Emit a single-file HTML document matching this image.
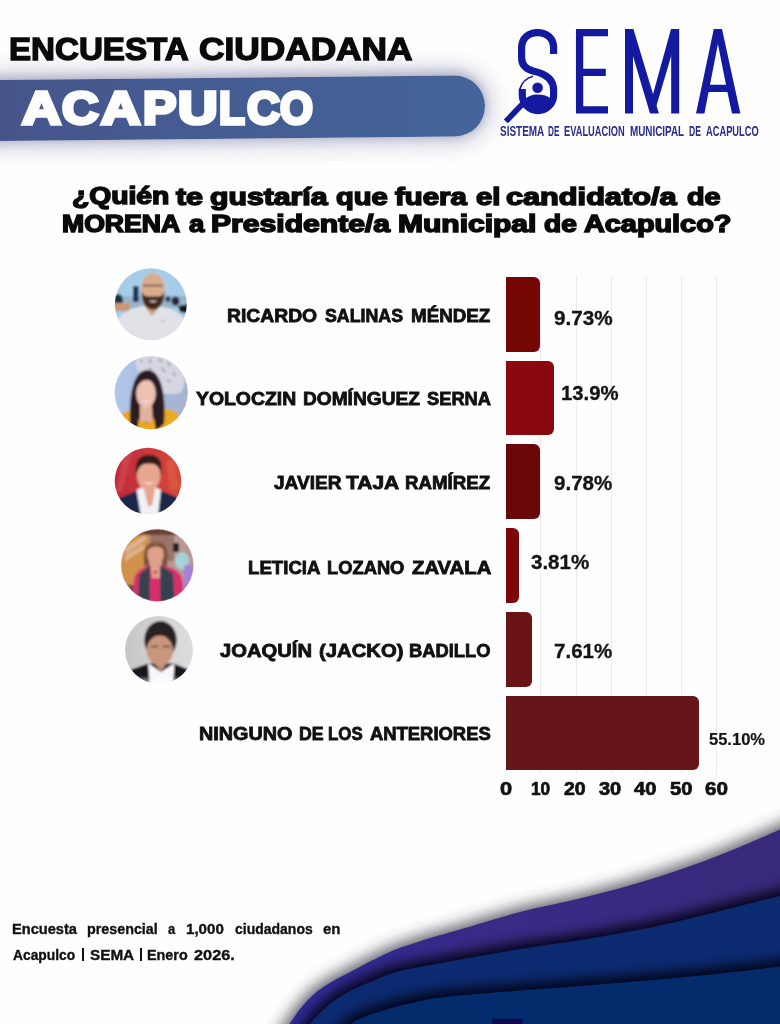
<!DOCTYPE html>
<html lang="es">
<head>
<meta charset="utf-8">
<title>Encuesta Ciudadana Acapulco - SEMA</title>
<style>
html,body{margin:0;padding:0;background:#fff;}
body{width:780px;height:1024px;position:relative;overflow:hidden;font-family:"Liberation Sans",sans-serif;}
#page{position:absolute;left:0;top:0;width:780px;height:1024px;overflow:hidden;background:#fefefe;}
.word{position:static;}
.t{display:block;position:absolute;white-space:pre;line-height:1;transform-origin:0 50%;font-family:"Liberation Sans",sans-serif;}
.pipe{position:absolute;top:947.8px;width:2.1px;height:13.6px;background:#111;}
.bar{position:absolute;left:506px;border-radius:0 6px 6px 0;}
.grid{position:absolute;top:275px;height:499px;width:1.1px;background:#ececec;}
#band{position:absolute;left:-40px;top:79.5px;width:525px;height:61.3px;background:linear-gradient(90deg,#45558b 8%,#44659b 100%);border-radius:0 30.6px 30.6px 0;
  box-shadow:0 0 22px 7px rgba(142,142,178,0.46), 0 -4px 9px rgba(105,105,135,0.3), 0 3px 9px rgba(100,100,135,0.2);transform:rotate(-0.56deg);transform-origin:40px 50%;}
svg{position:absolute;left:0;top:0;overflow:visible;}
</style>
</head>
<body>
<div id="page">

<!-- header band -->
<div id="band"></div>

<!-- bottom waves -->
<svg id="waves" width="780" height="1024" viewBox="0 0 780 1024">
  <defs>
    <filter id="sh1" x="-10%" y="-30%" width="120%" height="160%"><feGaussianBlur stdDeviation="7.5"/></filter>
    <filter id="sh2" x="-10%" y="-30%" width="120%" height="160%"><feGaussianBlur stdDeviation="6"/></filter>
    <linearGradient id="g1" x1="0" y1="0" x2="1" y2="0"><stop offset="0" stop-color="#2b2a96"/><stop offset="0.4" stop-color="#382a86"/><stop offset="1" stop-color="#39297a"/></linearGradient>
    <clipPath id="c1"><path d="M272.0,1050.0 C277.8,1041.3 284.5,1031.2 289.5,1024.0 C294.5,1016.8 297.4,1011.9 302.0,1006.5 C306.6,1001.1 311.7,995.8 317.0,991.5 C322.3,987.2 328.2,983.9 334.0,980.5 C339.8,977.1 345.7,974.3 352.0,971.0 C358.3,967.7 365.2,963.9 372.0,960.5 C378.8,957.1 386.7,953.2 393.0,950.5 C399.3,947.8 403.8,946.6 410.0,944.5 C416.2,942.4 421.7,940.5 430.0,938.0 C438.3,935.5 445.0,933.8 460.0,929.5 C475.0,925.2 498.9,917.5 520.0,912.0 C541.1,906.5 564.5,902.4 586.7,896.8 C608.9,891.2 630.8,885.5 653.0,878.5 C675.2,871.5 698.8,863.2 720.0,855.0 C741.2,846.8 766.7,835.3 780.0,829.5 C793.3,823.7 793.3,823.2 800.0,820.0 L800,1050 Z"/></clipPath>
    <clipPath id="c2"><path d="M293.0,1050.0 C298.7,1041.3 305.3,1030.3 310.0,1024.0 C314.7,1017.7 317.0,1015.8 321.0,1012.0 C325.0,1008.2 329.3,1004.4 334.0,1001.0 C338.7,997.6 343.2,994.6 349.0,991.5 C354.8,988.4 362.0,985.5 369.0,982.5 C376.0,979.5 384.2,975.8 391.0,973.5 C397.8,971.2 403.5,970.2 410.0,968.8 C416.5,967.4 421.7,966.5 430.0,965.0 C438.3,963.5 445.0,962.2 460.0,959.5 C475.0,956.8 498.9,952.4 520.0,949.0 C541.1,945.6 564.5,942.7 586.7,939.0 C608.9,935.3 630.8,931.7 653.0,927.0 C675.2,922.3 698.8,916.2 720.0,911.0 C741.2,905.8 766.7,899.2 780.0,895.7 C793.3,892.2 793.3,891.9 800.0,890.0 L800,1050 Z"/></clipPath>
  </defs>
  <path d="M272.0,1050.0 C277.8,1041.3 284.5,1031.2 289.5,1024.0 C294.5,1016.8 297.4,1011.9 302.0,1006.5 C306.6,1001.1 311.7,995.8 317.0,991.5 C322.3,987.2 328.2,983.9 334.0,980.5 C339.8,977.1 345.7,974.3 352.0,971.0 C358.3,967.7 365.2,963.9 372.0,960.5 C378.8,957.1 386.7,953.2 393.0,950.5 C399.3,947.8 403.8,946.6 410.0,944.5 C416.2,942.4 421.7,940.5 430.0,938.0 C438.3,935.5 445.0,933.8 460.0,929.5 C475.0,925.2 498.9,917.5 520.0,912.0 C541.1,906.5 564.5,902.4 586.7,896.8 C608.9,891.2 630.8,885.5 653.0,878.5 C675.2,871.5 698.8,863.2 720.0,855.0 C741.2,846.8 766.7,835.3 780.0,829.5 C793.3,823.7 793.3,823.2 800.0,820.0 L800,1050 Z" fill="#30303c" opacity="0.78" filter="url(#sh1)" transform="translate(-3,-4)"/>
  <path d="M272.0,1050.0 C277.8,1041.3 284.5,1031.2 289.5,1024.0 C294.5,1016.8 297.4,1011.9 302.0,1006.5 C306.6,1001.1 311.7,995.8 317.0,991.5 C322.3,987.2 328.2,983.9 334.0,980.5 C339.8,977.1 345.7,974.3 352.0,971.0 C358.3,967.7 365.2,963.9 372.0,960.5 C378.8,957.1 386.7,953.2 393.0,950.5 C399.3,947.8 403.8,946.6 410.0,944.5 C416.2,942.4 421.7,940.5 430.0,938.0 C438.3,935.5 445.0,933.8 460.0,929.5 C475.0,925.2 498.9,917.5 520.0,912.0 C541.1,906.5 564.5,902.4 586.7,896.8 C608.9,891.2 630.8,885.5 653.0,878.5 C675.2,871.5 698.8,863.2 720.0,855.0 C741.2,846.8 766.7,835.3 780.0,829.5 C793.3,823.7 793.3,823.2 800.0,820.0 L800,1050 Z" fill="url(#g1)"/>
  <g clip-path="url(#c1)">
    <path d="M293.0,1050.0 C298.7,1041.3 305.3,1030.3 310.0,1024.0 C314.7,1017.7 317.0,1015.8 321.0,1012.0 C325.0,1008.2 329.3,1004.4 334.0,1001.0 C338.7,997.6 343.2,994.6 349.0,991.5 C354.8,988.4 362.0,985.5 369.0,982.5 C376.0,979.5 384.2,975.8 391.0,973.5 C397.8,971.2 403.5,970.2 410.0,968.8 C416.5,967.4 421.7,966.5 430.0,965.0 C438.3,963.5 445.0,962.2 460.0,959.5 C475.0,956.8 498.9,952.4 520.0,949.0 C541.1,945.6 564.5,942.7 586.7,939.0 C608.9,935.3 630.8,931.7 653.0,927.0 C675.2,922.3 698.8,916.2 720.0,911.0 C741.2,905.8 766.7,899.2 780.0,895.7 C793.3,892.2 793.3,891.9 800.0,890.0 L800,1050 Z" fill="#04040c" opacity="0.9" filter="url(#sh2)" transform="translate(-2,-6)"/>
    <path d="M293.0,1050.0 C298.7,1041.3 305.3,1030.3 310.0,1024.0 C314.7,1017.7 317.0,1015.8 321.0,1012.0 C325.0,1008.2 329.3,1004.4 334.0,1001.0 C338.7,997.6 343.2,994.6 349.0,991.5 C354.8,988.4 362.0,985.5 369.0,982.5 C376.0,979.5 384.2,975.8 391.0,973.5 C397.8,971.2 403.5,970.2 410.0,968.8 C416.5,967.4 421.7,966.5 430.0,965.0 C438.3,963.5 445.0,962.2 460.0,959.5 C475.0,956.8 498.9,952.4 520.0,949.0 C541.1,945.6 564.5,942.7 586.7,939.0 C608.9,935.3 630.8,931.7 653.0,927.0 C675.2,922.3 698.8,916.2 720.0,911.0 C741.2,905.8 766.7,899.2 780.0,895.7 C793.3,892.2 793.3,891.9 800.0,890.0 L800,1050 Z" fill="#0c2a70"/>
  </g>
  <g clip-path="url(#c2)">
    <path d="M322.0,1050.0 C331.7,1041.3 344.0,1029.5 351.0,1024.0 C358.0,1018.5 359.4,1019.0 364.0,1017.0 C368.6,1015.0 373.0,1013.8 378.7,1012.0 C384.4,1010.2 391.5,1007.7 398.0,1006.0 C404.5,1004.3 412.4,1003.0 417.7,1001.8 C423.0,1000.6 422.9,1000.0 430.0,999.0 C437.1,998.0 445.0,996.9 460.0,995.5 C475.0,994.1 498.9,992.2 520.0,990.5 C541.1,988.8 564.5,987.2 586.7,985.5 C608.9,983.8 630.8,982.0 653.0,980.0 C675.2,978.0 698.8,975.8 720.0,973.5 C741.2,971.2 766.7,968.1 780.0,966.5 C793.3,964.9 793.3,964.8 800.0,964.0 L800,1050 Z" fill="#04040c" opacity="0.9" filter="url(#sh2)" transform="translate(-2,-6)"/>
    <path d="M322.0,1050.0 C331.7,1041.3 344.0,1029.5 351.0,1024.0 C358.0,1018.5 359.4,1019.0 364.0,1017.0 C368.6,1015.0 373.0,1013.8 378.7,1012.0 C384.4,1010.2 391.5,1007.7 398.0,1006.0 C404.5,1004.3 412.4,1003.0 417.7,1001.8 C423.0,1000.6 422.9,1000.0 430.0,999.0 C437.1,998.0 445.0,996.9 460.0,995.5 C475.0,994.1 498.9,992.2 520.0,990.5 C541.1,988.8 564.5,987.2 586.7,985.5 C608.9,983.8 630.8,982.0 653.0,980.0 C675.2,978.0 698.8,975.8 720.0,973.5 C741.2,971.2 766.7,968.1 780.0,966.5 C793.3,964.9 793.3,964.8 800.0,964.0 L800,1050 Z" fill="#042b6c"/>
  </g>
  <rect x="491.8" y="1018.8" width="30.8" height="8" fill="#0d0a50"/>
</svg>

<!-- chart grid + bars -->
<div class="grid" style="left:540.4px"></div>
<div class="grid" style="left:575.5px"></div>
<div class="grid" style="left:610.5px"></div>
<div class="grid" style="left:645.6px"></div>
<div class="grid" style="left:680.6px"></div>
<div class="grid" style="left:715.7px"></div>
<div class="bar" style="top:277.0px;height:74.7px;width:34.3px;background:#740604"></div>
<div class="bar" style="top:360.6px;height:74.8px;width:48.2px;background:#8b090e"></div>
<div class="bar" style="top:444.3px;height:74.8px;width:34.0px;background:#6a0709"></div>
<div class="bar" style="top:528.0px;height:74.8px;width:13.0px;background:#7c0608"></div>
<div class="bar" style="top:611.8px;height:74.8px;width:26.2px;background:#6b1418"></div>
<div class="bar" style="top:695.8px;height:74.7px;width:193.1px;background:#66151a"></div>

<!-- logo -->
<svg id="logo" width="780" height="160" viewBox="0 0 780 160">
  <g fill="none" stroke="#141aa0" stroke-width="7.2" stroke-linecap="butt" stroke-linejoin="miter">
    <!-- S with magnifier bowl -->
    <path d="M553.6,54 L553.6,48 C553.6,37.800 546.500,32.600 537.600,32.600 C528.700,32.600 521.600,37.800 521.600,48 L521.6,58 C521.6,65 526,69 533,71 C545,73.5 553.6,79 553.6,90 L553.6,95 A15.65,15.65 0 0 1 522.3,95 L522.3,89"/>
    <!-- E -->
    <path d="M608,32.700 L579.600,32.700 L579.600,109.800 L608,109.800 M579.600,72.300 L605.800,72.300" stroke-width="7.300"/>
    <!-- M stems -->
    <path d="M629,113.5 L629,29 M675.2,113.5 L675.2,29" stroke-width="8"/>
    <!-- magnifier thin arc + handle -->
    <path d="M533,76.300 A19,19 0 0 0 519.700,89.500" stroke-width="1.700"/>
    <path d="M523.500,103 L505.800,121.400" stroke-width="5.600"/>
  </g>
  <g fill="#141aa0">
    <!-- M diagonals -->
    <path d="M625,29 L633.4,29 L658.9,113.5 L650,113.5 Z"/>
    <path d="M679.2,29 L671,29 L652.8,95 L656.2,106.5 Z"/>
    <!-- A -->
    <path d="M713.8,29 L722,29 L740.4,113.5 L732,113.5 L727.4,92 L708.6,92 L704.4,113.5 L696,113.5 Z M717.9,44 L710,84.800 L726,84.800 Z" fill-rule="evenodd"/>
    <!-- person inside magnifier -->
    <path d="M524.500,100 C528,96 532,94.600 537.500,94.600 C543,94.600 548,96 551.500,99.200 A14,14 0 0 1 524.500,100 Z"/>
    <circle cx="537.6" cy="87.8" r="5.300"/>
  </g>
</svg>

<!-- avatars -->
<svg id="avatars" width="780" height="1024" viewBox="0 0 780 1024">
  <defs>
    <clipPath id="a1"><circle cx="150.8" cy="304.2" r="36"/></clipPath>
    <clipPath id="a2"><circle cx="151.2" cy="392.6" r="36.6"/></clipPath>
    <clipPath id="a3"><circle cx="148" cy="481" r="33.3"/></clipPath>
    <clipPath id="a4"><circle cx="157.3" cy="565.2" r="36"/></clipPath>
    <clipPath id="a5"><circle cx="159" cy="650" r="34"/></clipPath>
    <filter id="bl" x="-5%" y="-5%" width="110%" height="110%"><feGaussianBlur stdDeviation="0.9"/></filter>
    <linearGradient id="bg2" x1="0" y1="0" x2="1" y2="0"><stop offset="0" stop-color="#b2c8ea"/><stop offset="1" stop-color="#a6acd4"/></linearGradient>
    <linearGradient id="bg3" x1="0" y1="0" x2="1" y2="0"><stop offset="0" stop-color="#bd2838"/><stop offset="0.55" stop-color="#cc3a3c"/><stop offset="1" stop-color="#da4a38"/></linearGradient>
    <linearGradient id="bg5" x1="0" y1="0" x2="1" y2="0"><stop offset="0" stop-color="#c6c6c6"/><stop offset="1" stop-color="#dedede"/></linearGradient>
    <linearGradient id="fade5" x1="0" y1="0" x2="0" y2="1"><stop offset="0" stop-color="#fff" stop-opacity="0"/><stop offset="1" stop-color="#fff" stop-opacity="1"/></linearGradient>
  </defs>
  <!-- avatar 1 -->
  <g clip-path="url(#a1)"><g filter="url(#bl)">
    <rect x="112" y="266" width="78" height="78" fill="#a6cde8"/>
    <rect x="112" y="296" width="78" height="12" fill="#8fa2b4" opacity="0.6"/>
    <ellipse cx="118" cy="300" rx="5" ry="6" fill="#1f3040"/>
    <rect x="114" y="303" width="16" height="8" fill="#c89878"/>
    <rect x="133" y="286" width="5.600" height="16" rx="1" fill="#1a3050"/>
    <ellipse cx="175.500" cy="301" rx="4" ry="4.500" fill="#20283a"/>
    <ellipse cx="168" cy="299" rx="2.500" ry="3" fill="#303a5a"/>
    <path d="M178,306 L190,304 L190,314 L180,312 Z" fill="#151518"/>
    <path d="M112,344 L116,322 C122,311 136,306 151,305 C166,306 180,311 186,322 L190,344 Z" fill="#e1e2e7"/>
    <path d="M143,304 L152,316 L162,304 L158,300 L146,300 Z" fill="#c99a80"/>
    <ellipse cx="153" cy="289" rx="11.800" ry="16" fill="#dcab8e"/>
    <path d="M141.500,291 C141.500,304 147,309.500 153,309.500 C159,309.500 164.500,304 164.500,291 C163,296 160,297 153,296.500 C146,297 143,296 141.500,291 Z" fill="#43291f"/>
    <path d="M148.500,300.500 C151,302.500 155,302.500 157.500,300.500 C155,301 151,301 148.500,300.500 Z" fill="#f2e6e0"/>
    <path d="M143,285.500 L163,285.500" stroke="#3a2a26" stroke-width="1.300" fill="none"/>
    <circle cx="163" cy="321" r="0.900" fill="#8a8a98"/>
  </g></g>
  <!-- avatar 2 -->
  <g clip-path="url(#a2)"><g filter="url(#bl)">
    <rect x="112" y="354" width="78" height="78" fill="url(#bg2)"/>
    <path d="M136,356 C150,352 176,356 184,372 C186,382 184,392 178,394 L164,394 C158,380 140,374 136,368 Z" fill="#d6d6e2"/>
    <path d="M140,360 l3,2 m6,-3 l2,4 m8,-4 l3,3 m6,0 l2,4 m-22,2 l4,2 m10,-2 l3,4 m8,0 l2,4 m-8,4 l4,2 m-22,-10 l3,3" stroke="#8a8a9c" stroke-width="1.300" fill="none"/>
    <rect x="160" y="394" width="30" height="20" fill="#a8b4d4"/>
    <path d="M118,432 L122,414 C128,409 140,408 150,408 C164,408 174,409 178,414 L182,432 Z" fill="#eaa922"/>
    <path d="M130,424 C129,398 132,371 147,370 C162,370 166,396 164,424 L158,429 L136,429 Z" fill="#2c1c24"/>
    <path d="M140,406 L152,406 L153,422 L140,422 Z" fill="#e2b0a0"/>
    <path d="M139,418 C142,424 150,424 154,418 L156,432 L137,432 Z" fill="#eaa922"/>
    <ellipse cx="146" cy="393.500" rx="9.800" ry="14.500" fill="#ecc0b3"/>
    <path d="M135.500,392 C136,378 141,374 147,374 C153,374 157,378 157.500,392 C155,383 151,380 147,380 C142,380 138,383 135.500,392 Z" fill="#2c1c24"/>
    <path d="M142,400.500 C144.500,402.800 148,402.800 150.500,400.500 C148,401.300 144.500,401.300 142,400.500 Z" fill="#f6ecec"/>
  </g></g>
  <!-- avatar 3 -->
  <g clip-path="url(#a3)"><g filter="url(#bl)">
    <rect x="112" y="445" width="72" height="72" fill="url(#bg3)"/>
    <path d="M124,452 L132,452 L122,492 L116,492 Z" fill="#d2505a" opacity="0.6"/>
    <path d="M166,462 L174,458 L178,488 L170,490 Z" fill="#e06048" opacity="0.6"/>
    <path d="M112,517 L119,498 L138,490.500 L160,490.500 L177,497 L184,517 Z" fill="#1a2746"/>
    <path d="M136.500,490 L141,516 L158,516 L161,490 L155,487 L142,487 Z" fill="#f0f0f5"/>
    <path d="M144,489 L148,506 L152,506 L155,489 Z" fill="#e3a58c"/>
    <ellipse cx="148.700" cy="475" rx="11.800" ry="15.500" fill="#e6a78e"/>
    <path d="M136.500,476 C134,460 140,455 149,455 C158,455 163.500,460 161,476 C160,466 156,463.500 149,463.500 C142,463.500 138,466 136.500,476 Z" fill="#2f1d19"/>
    <path d="M143.500,482 C146.500,484.800 151,484.800 154,482 C151,483 146.500,483 143.500,482 Z" fill="#f8efec"/>
  </g></g>
  <!-- avatar 4 -->
  <g clip-path="url(#a4)"><g filter="url(#bl)">
    <rect x="119" y="527" width="78" height="78" fill="#b89a92"/>
    <rect x="119" y="527" width="30" height="78" fill="#d0914a"/>
    <path d="M124,548 L146,534 L146,540 L126,554 Z M124,556 L144,544 L144,549 L126,561 Z" fill="#dcb48a"/>
    <rect x="119" y="527" width="78" height="8" fill="#6b4232"/>
    <rect x="150" y="535" width="24" height="26" fill="#9a746a"/>
    <rect x="173" y="543" width="6" height="9" fill="#1e1e20"/>
    <ellipse cx="182" cy="561" rx="7" ry="9" fill="#a8d2da"/>
    <path d="M184,566 C190,562 196,568 196,576 L196,600 L184,600 Z" fill="#a67fd8"/>
    <path d="M119,585 L134,585 L134,605 L119,605 Z" fill="#5a5048"/>
    <path d="M132,605 L134,578 C138,568 148,565 156,565 C166,565 178,568 182,578 L185,605 Z" fill="#d92d6e"/>
    <path d="M150,563 L162,563 L160,578 L152,578 Z" fill="#e0a090"/>
    <path d="M138,605 L139,575 L150,565 L150,605 Z M160,605 L160,565 L173,573 L175,605 Z" fill="#35424e"/>
    <path d="M144.500,566 C142,548 147,542 156,542 C165,542 169,548 167,566 L162,566 L162,558 L149,558 L149,566 Z" fill="#7a5038"/>
    <ellipse cx="155.500" cy="554" rx="8.300" ry="11" fill="#dda088"/>
    <path d="M147,551 C148,545 152,543.500 156,543.500 C160,543.500 163.500,545 164.500,551 C162,547.500 159,546.500 156,546.500 C152.500,546.500 149.500,547.500 147,551 Z" fill="#7a5038"/>
    <circle cx="155.500" cy="572" r="1.600" fill="#b02020"/>
  </g></g>
  <circle cx="157.3" cy="565.2" r="36" fill="none" stroke="#e06aa0" stroke-width="1" opacity="0.35"/>
  <!-- avatar 5 -->
  <g clip-path="url(#a5)"><g filter="url(#bl)">
    <rect x="123" y="614" width="72" height="72" fill="url(#bg5)"/>
    <path d="M126,686 L131,669.500 L148,663.500 L174,663.500 L187.500,669 L192,686 Z" fill="#19191b"/>
    <path d="M148,663 L150,686 L173,686 L174.500,663 L161,672 Z" fill="#f7f7f9"/>
    <path d="M152,660 L161,672 L169,660 Z" fill="#c08f78"/>
    <ellipse cx="160.500" cy="640" rx="16.200" ry="19" fill="#2b2320"/>
    <ellipse cx="159.800" cy="650.500" rx="13.200" ry="15" fill="#c9967d"/>
    <path d="M147,641 C150,633 156,631.500 161,631.500 C167,631.500 172,634 174,641 L174,632 L147,632 Z" fill="#2b2320"/>
    <path d="M151,646.500 L158,646.500 M163,646.500 L170,646.500" stroke="#5a4438" stroke-width="1.600" fill="none"/>
    <rect x="123" y="676" width="72" height="10" fill="url(#fade5)"/>
  </g></g>
</svg>

<!-- texts -->
<div class="pipe" style="left:81.5px"></div><div class="pipe" style="left:139.9px"></div>
<div class="t" style="left:9.4px;top:33.8px;font-size:31.28px;font-weight:700;color:#0a0a0a;transform:scaleX(1.0592);-webkit-text-stroke:1.4px #0a0a0a;">ENCUESTA</div>
<div class="t" style="left:199.2px;top:33.8px;font-size:31.28px;font-weight:700;color:#0a0a0a;transform:scaleX(1.1277);-webkit-text-stroke:1.4px #0a0a0a;">CIUDADANA</div>
<div class="word"><span class="t" style="left:21.9px;top:85.2px;font-size:46.37px;font-weight:700;color:#ffffff;transform:scaleX(1.1639);-webkit-text-stroke:3.6px #fff;">A</span><span class="t" style="left:62.0px;top:85.2px;font-size:46.37px;font-weight:700;color:#ffffff;transform:scaleX(1.0914);-webkit-text-stroke:3.6px #fff;">C</span><span class="t" style="left:100.7px;top:85.2px;font-size:46.37px;font-weight:700;color:#ffffff;transform:scaleX(1.1750);-webkit-text-stroke:3.6px #fff;">A</span><span class="t" style="left:142.9px;top:85.2px;font-size:46.37px;font-weight:700;color:#ffffff;transform:scaleX(1.0800);-webkit-text-stroke:3.6px #fff;">P</span><span class="t" style="left:177.6px;top:85.2px;font-size:46.37px;font-weight:700;color:#ffffff;transform:scaleX(1.1812);-webkit-text-stroke:3.6px #fff;">U</span><span class="t" style="left:219.4px;top:85.2px;font-size:46.37px;font-weight:700;color:#ffffff;transform:scaleX(0.9107);-webkit-text-stroke:3.6px #fff;">L</span><span class="t" style="left:246.5px;top:85.2px;font-size:46.37px;font-weight:700;color:#ffffff;transform:scaleX(0.9857);-webkit-text-stroke:3.6px #fff;">C</span><span class="t" style="left:279.5px;top:85.2px;font-size:46.37px;font-weight:700;color:#ffffff;transform:scaleX(0.9139);-webkit-text-stroke:3.6px #fff;">O</span></div>
<div class="t" style="left:71.6px;top:185.3px;font-size:23.6px;font-weight:700;color:#0a0a0a;transform:scaleX(1.1975);-webkit-text-stroke:1.5px #0a0a0a;">¿Quién</div>
<div class="t" style="left:176.3px;top:184.8px;font-size:24.1px;font-weight:700;color:#0a0a0a;transform:scaleX(1.2619);-webkit-text-stroke:1.5px #0a0a0a;">te</div>
<div class="t" style="left:209.6px;top:184.8px;font-size:24.1px;font-weight:700;color:#0a0a0a;transform:scaleX(1.2537);-webkit-text-stroke:1.5px #0a0a0a;">gustaría</div>
<div class="t" style="left:336.3px;top:184.8px;font-size:24.1px;font-weight:700;color:#0a0a0a;transform:scaleX(1.2070);-webkit-text-stroke:1.5px #0a0a0a;">que</div>
<div class="t" style="left:395.2px;top:184.8px;font-size:24.1px;font-weight:700;color:#0a0a0a;transform:scaleX(1.2167);-webkit-text-stroke:1.5px #0a0a0a;">fuera</div>
<div class="t" style="left:475.6px;top:184.8px;font-size:24.1px;font-weight:700;color:#0a0a0a;transform:scaleX(1.2158);-webkit-text-stroke:1.5px #0a0a0a;">el</div>
<div class="t" style="left:506.3px;top:184.8px;font-size:24.1px;font-weight:700;color:#0a0a0a;transform:scaleX(1.2733);-webkit-text-stroke:1.5px #0a0a0a;">candidato/a</div>
<div class="t" style="left:686.5px;top:184.8px;font-size:24.1px;font-weight:700;color:#0a0a0a;transform:scaleX(1.1929);-webkit-text-stroke:1.5px #0a0a0a;">de</div>
<div class="t" style="left:62.4px;top:213.2px;font-size:23.04px;font-weight:700;color:#0a0a0a;transform:scaleX(1.1549);-webkit-text-stroke:1.5px #0a0a0a;">MORENA</div>
<div class="t" style="left:188.5px;top:212.3px;font-size:24.1px;font-weight:700;color:#0a0a0a;transform:scaleX(1.1429);-webkit-text-stroke:1.5px #0a0a0a;">a</div>
<div class="t" style="left:210.9px;top:212.8px;font-size:23.6px;font-weight:700;color:#0a0a0a;transform:scaleX(1.2757);-webkit-text-stroke:1.5px #0a0a0a;">Presidente/a</div>
<div class="t" style="left:397.7px;top:212.8px;font-size:23.6px;font-weight:700;color:#0a0a0a;transform:scaleX(1.2720);-webkit-text-stroke:1.5px #0a0a0a;">Municipal</div>
<div class="t" style="left:544.2px;top:212.3px;font-size:24.1px;font-weight:700;color:#0a0a0a;transform:scaleX(1.1679);-webkit-text-stroke:1.5px #0a0a0a;">de</div>
<div class="t" style="left:583.5px;top:212.8px;font-size:23.6px;font-weight:700;color:#0a0a0a;transform:scaleX(1.2217);-webkit-text-stroke:1.5px #0a0a0a;">Acapulco?</div>
<div class="t" style="left:226.9px;top:307.5px;font-size:17.74px;font-weight:700;color:#111;transform:scaleX(1.0890);-webkit-text-stroke:0.8px #111;">RICARDO</div>
<div class="t" style="left:325.0px;top:307.5px;font-size:17.74px;font-weight:700;color:#111;transform:scaleX(1.0026);-webkit-text-stroke:0.8px #111;">SALINAS</div>
<div class="t" style="left:411.1px;top:307.5px;font-size:17.74px;font-weight:700;color:#111;transform:scaleX(1.0595);-webkit-text-stroke:0.8px #111;">MÉNDEZ</div>
<div class="t" style="left:195.9px;top:391.2px;font-size:17.74px;font-weight:700;color:#111;transform:scaleX(1.0934);-webkit-text-stroke:0.8px #111;">YOLOCZIN</div>
<div class="t" style="left:302.6px;top:391.2px;font-size:17.74px;font-weight:700;color:#111;transform:scaleX(1.0785);-webkit-text-stroke:0.8px #111;">DOMÍNGUEZ</div>
<div class="t" style="left:426.8px;top:391.2px;font-size:17.74px;font-weight:700;color:#111;transform:scaleX(1.0306);-webkit-text-stroke:0.8px #111;">SERNA</div>
<div class="t" style="left:274.0px;top:475.3px;font-size:17.74px;font-weight:700;color:#111;transform:scaleX(1.0746);-webkit-text-stroke:0.8px #111;">JAVIER</div>
<div class="t" style="left:345.5px;top:475.3px;font-size:17.74px;font-weight:700;color:#111;transform:scaleX(1.1822);-webkit-text-stroke:0.8px #111;">TAJA</div>
<div class="t" style="left:405.3px;top:475.3px;font-size:17.74px;font-weight:700;color:#111;transform:scaleX(1.0538);-webkit-text-stroke:0.8px #111;">RAMÍREZ</div>
<div class="t" style="left:247.7px;top:558.7px;font-size:18.02px;font-weight:700;color:#111;transform:scaleX(1.0348);-webkit-text-stroke:0.8px #111;">LETICIA</div>
<div class="t" style="left:326.8px;top:558.7px;font-size:18.02px;font-weight:700;color:#111;transform:scaleX(1.0173);-webkit-text-stroke:0.8px #111;">LOZANO</div>
<div class="t" style="left:411.8px;top:558.7px;font-size:18.02px;font-weight:700;color:#111;transform:scaleX(1.1271);-webkit-text-stroke:0.8px #111;">ZAVALA</div>
<div class="t" style="left:219.5px;top:642.4px;font-size:18.02px;font-weight:700;color:#111;transform:scaleX(1.1210);-webkit-text-stroke:0.8px #111;">JOAQUÍN</div>
<div class="t" style="left:318.5px;top:642.4px;font-size:18.02px;font-weight:700;color:#111;transform:scaleX(1.1253);-webkit-text-stroke:0.8px #111;">(JACKO)</div>
<div class="t" style="left:409.4px;top:642.4px;font-size:18.02px;font-weight:700;color:#111;transform:scaleX(1.0190);-webkit-text-stroke:0.8px #111;">BADILLO</div>
<div class="t" style="left:199.0px;top:725.9px;font-size:17.88px;font-weight:700;color:#111;transform:scaleX(1.1072);-webkit-text-stroke:0.8px #111;">NINGUNO</div>
<div class="t" style="left:298.7px;top:725.9px;font-size:17.88px;font-weight:700;color:#111;transform:scaleX(0.9917);-webkit-text-stroke:0.8px #111;">DE</div>
<div class="t" style="left:328.3px;top:725.9px;font-size:17.88px;font-weight:700;color:#111;transform:scaleX(0.9444);-webkit-text-stroke:0.8px #111;">LOS</div>
<div class="t" style="left:370.3px;top:725.9px;font-size:17.88px;font-weight:700;color:#111;transform:scaleX(1.0308);-webkit-text-stroke:0.8px #111;">ANTERIORES</div>
<div class="t" style="left:554.0px;top:309.3px;font-size:19.83px;font-weight:700;color:#141414;transform:scaleX(1.0436);-webkit-text-stroke:0.3px #141414;">9.73%</div>
<div class="t" style="left:560.8px;top:383.9px;font-size:19.83px;font-weight:700;color:#141414;transform:scaleX(1.0255);-webkit-text-stroke:0.3px #141414;">13.9%</div>
<div class="t" style="left:554.2px;top:473.5px;font-size:19.55px;font-weight:700;color:#141414;transform:scaleX(1.0519);-webkit-text-stroke:0.3px #141414;">9.78%</div>
<div class="t" style="left:530.6px;top:553.1px;font-size:19.69px;font-weight:700;color:#141414;transform:scaleX(1.0429);-webkit-text-stroke:0.3px #141414;">3.81%</div>
<div class="t" style="left:553.9px;top:642.3px;font-size:19.55px;font-weight:700;color:#141414;transform:scaleX(1.0519);-webkit-text-stroke:0.3px #141414;">7.61%</div>
<div class="t" style="left:708.9px;top:731.1px;font-size:17.18px;font-weight:700;color:#141414;transform:scaleX(0.9614);-webkit-text-stroke:0.2px #141414;">55.10%</div>
<div class="t" style="left:499.6px;top:780.8px;font-size:17.88px;font-weight:700;color:#111;transform:scaleX(1.2200);-webkit-text-stroke:0.7px #111;">0</div>
<div class="t" style="left:530.7px;top:780.8px;font-size:17.88px;font-weight:700;color:#111;transform:scaleX(0.9632);-webkit-text-stroke:0.7px #111;">10</div>
<div class="t" style="left:564.4px;top:780.8px;font-size:17.88px;font-weight:700;color:#111;transform:scaleX(1.0900);-webkit-text-stroke:0.7px #111;">20</div>
<div class="t" style="left:599.0px;top:780.8px;font-size:17.88px;font-weight:700;color:#111;transform:scaleX(1.1200);-webkit-text-stroke:0.7px #111;">30</div>
<div class="t" style="left:634.2px;top:780.8px;font-size:17.88px;font-weight:700;color:#111;transform:scaleX(1.1250);-webkit-text-stroke:0.7px #111;">40</div>
<div class="t" style="left:669.5px;top:780.8px;font-size:17.88px;font-weight:700;color:#111;transform:scaleX(1.1250);-webkit-text-stroke:0.7px #111;">50</div>
<div class="t" style="left:704.7px;top:780.8px;font-size:17.88px;font-weight:700;color:#111;transform:scaleX(1.1550);-webkit-text-stroke:0.7px #111;">60</div>
<div class="t" style="left:499.7px;top:123.9px;font-size:14.8px;font-weight:700;color:#2a2c8a;transform:scaleX(0.6734);">SISTEMA</div>
<div class="t" style="left:548.2px;top:123.9px;font-size:14.8px;font-weight:700;color:#2a2c8a;transform:scaleX(0.5526);">DE</div>
<div class="t" style="left:564.4px;top:123.9px;font-size:14.8px;font-weight:700;color:#2a2c8a;transform:scaleX(0.6274);">EVALUACION</div>
<div class="t" style="left:629.8px;top:123.9px;font-size:14.8px;font-weight:700;color:#2a2c8a;transform:scaleX(0.6675);">MUNICIPAL</div>
<div class="t" style="left:689.4px;top:123.9px;font-size:14.8px;font-weight:700;color:#2a2c8a;transform:scaleX(0.5789);">DE</div>
<div class="t" style="left:706.2px;top:123.9px;font-size:14.8px;font-weight:700;color:#2a2c8a;transform:scaleX(0.6280);">ACAPULCO</div>
<div class="t" style="left:11.9px;top:921.5px;font-size:14.87px;font-weight:700;color:#111;transform:scaleX(0.9831);-webkit-text-stroke:0.35px #111;">Encuesta</div>
<div class="t" style="left:87.3px;top:921.5px;font-size:14.87px;font-weight:700;color:#111;transform:scaleX(0.9625);-webkit-text-stroke:0.35px #111;">presencial</div>
<div class="t" style="left:168.4px;top:921.2px;font-size:15.32px;font-weight:700;color:#111;transform:scaleX(0.8444);-webkit-text-stroke:0.35px #111;">a</div>
<div class="t" style="left:185.9px;top:921.5px;font-size:14.87px;font-weight:700;color:#111;transform:scaleX(1.0167);-webkit-text-stroke:0.35px #111;">1,000</div>
<div class="t" style="left:235.0px;top:921.5px;font-size:14.87px;font-weight:700;color:#111;transform:scaleX(0.9415);-webkit-text-stroke:0.35px #111;">ciudadanos</div>
<div class="t" style="left:322.7px;top:921.2px;font-size:15.32px;font-weight:700;color:#111;transform:scaleX(0.9824);-webkit-text-stroke:0.35px #111;">en</div>
<div class="t" style="left:13.3px;top:947.8px;font-size:14.87px;font-weight:700;color:#111;transform:scaleX(0.9284);-webkit-text-stroke:0.35px #111;">Acapulco</div>
<div class="t" style="left:89.6px;top:947.8px;font-size:14.87px;font-weight:700;color:#111;transform:scaleX(1.0279);-webkit-text-stroke:0.35px #111;">SEMA</div>
<div class="t" style="left:147.0px;top:947.8px;font-size:14.87px;font-weight:700;color:#111;transform:scaleX(0.9659);-webkit-text-stroke:0.35px #111;">Enero</div>
<div class="t" style="left:193.6px;top:947.8px;font-size:14.87px;font-weight:700;color:#111;transform:scaleX(1.0972);-webkit-text-stroke:0.35px #111;">2026.</div>

</div>
</body>
</html>
